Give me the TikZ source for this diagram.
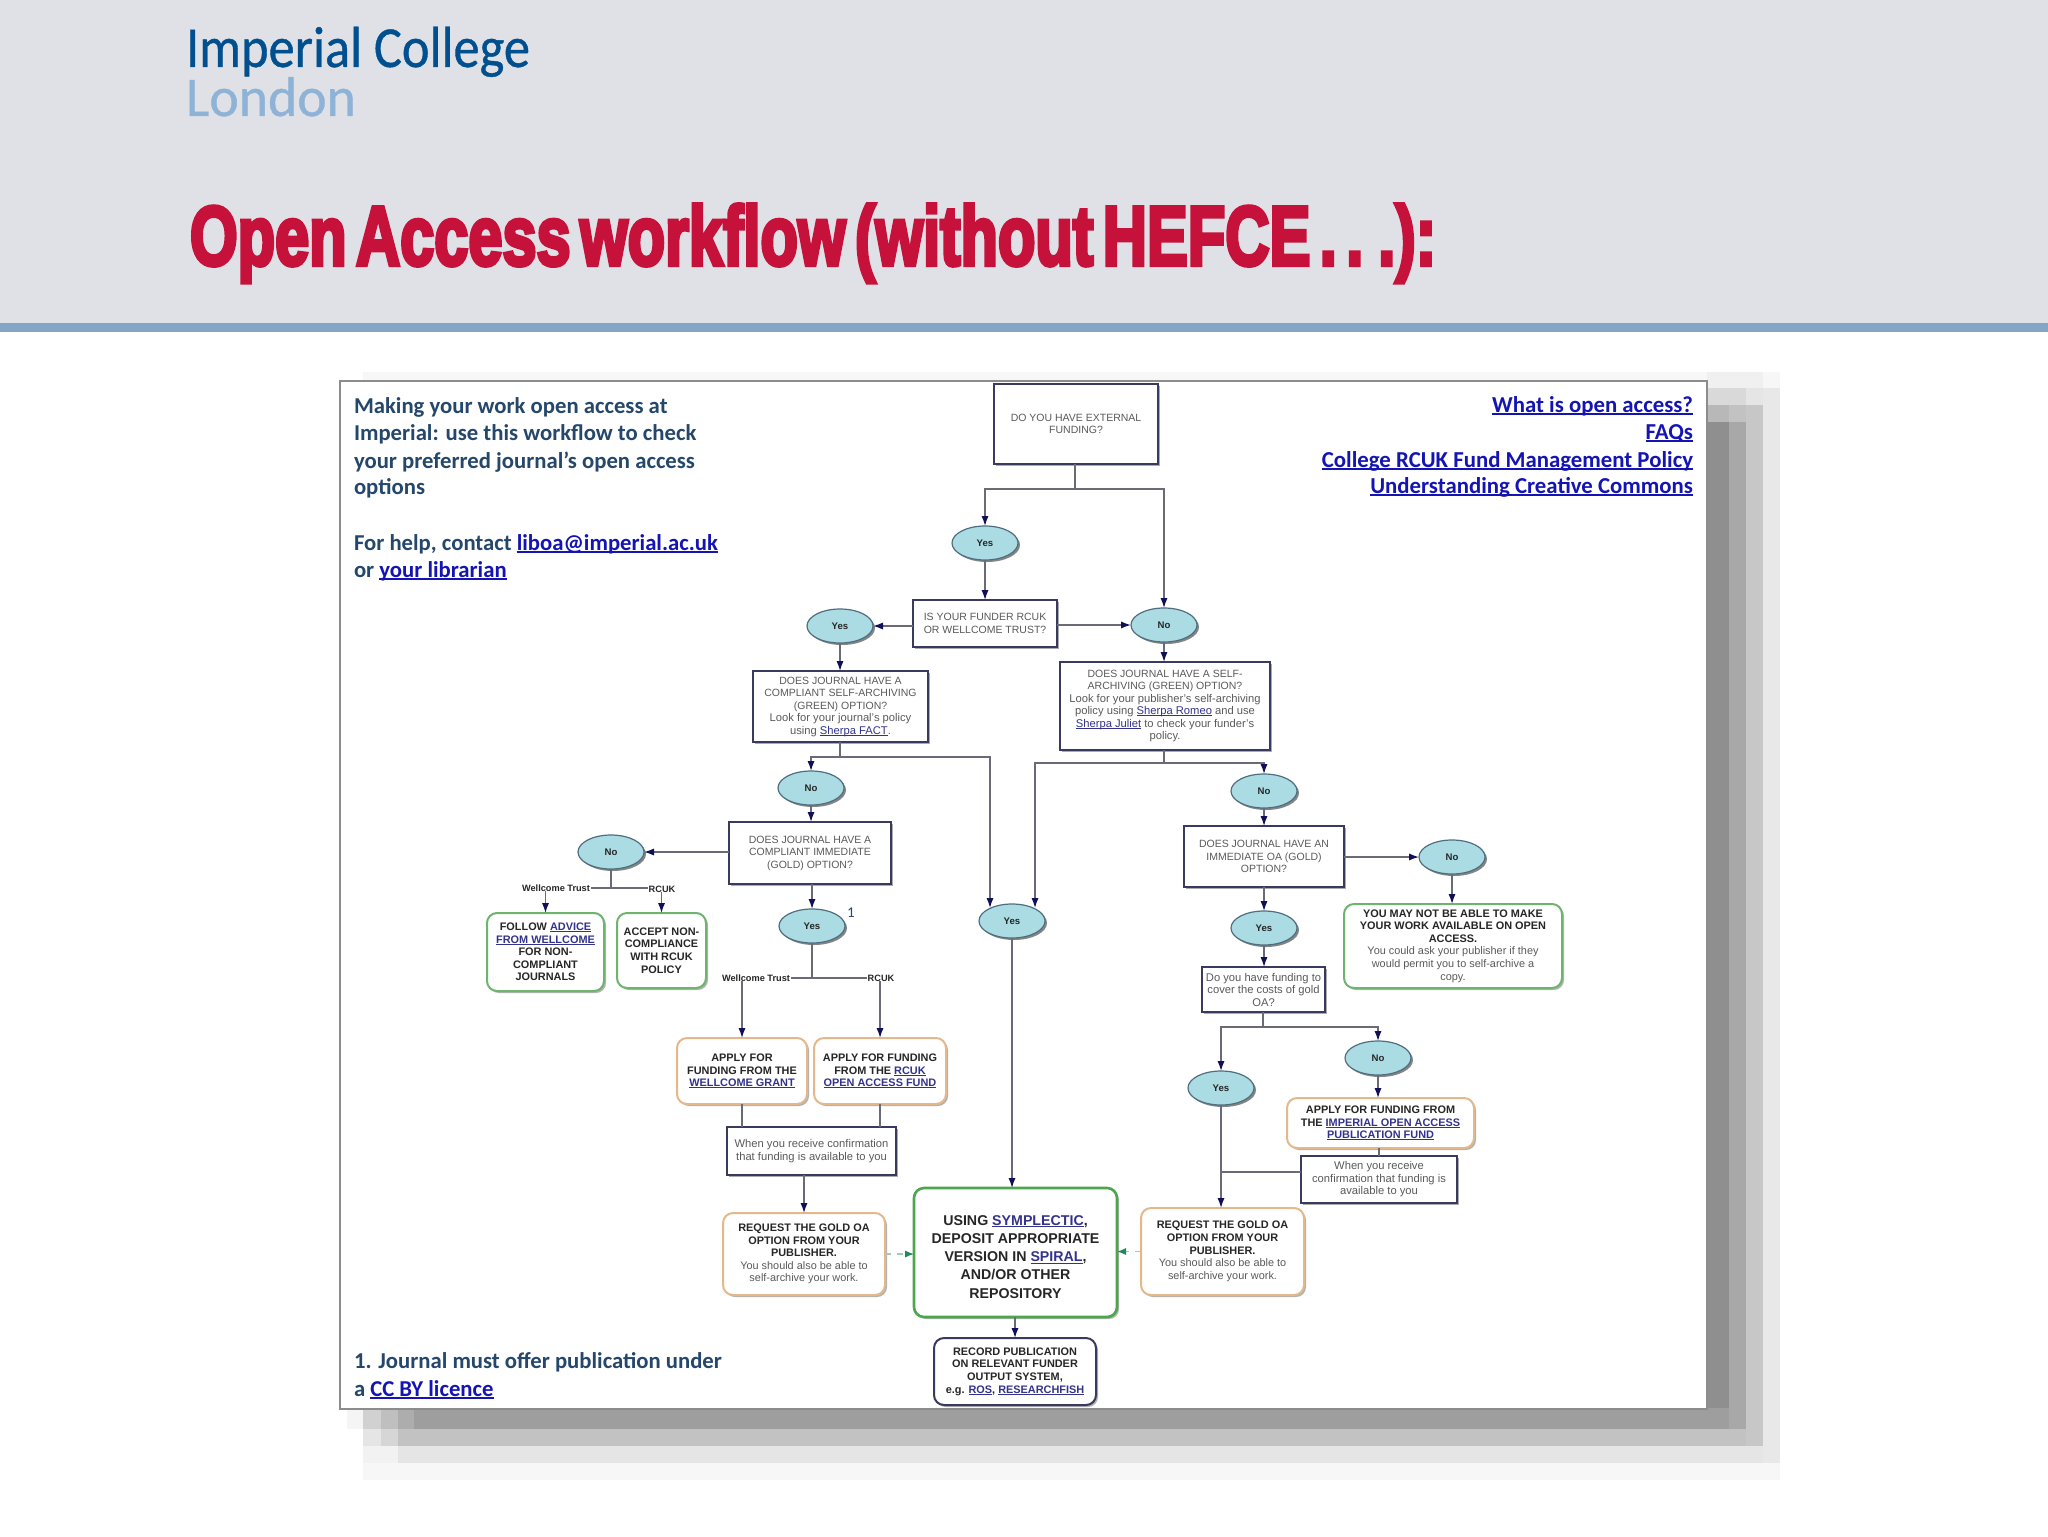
\documentclass[tikz,border=0pt]{standalone}
\usepackage{graphicx}
\usepackage{fontspec}
\setmainfont{Liberation Sans}
\newfontfamily\carl{Carlito}
\newfontfamily\logof[FakeBold=.7]{Carlito}
\newfontfamily\titlef[FakeBold=5,WordSpace=0.55]{Liberation Sans Bold}
\usetikzlibrary{shapes.geometric,arrows.meta,shadows}
\definecolor{hdr}{HTML}{E0E1E6}
\definecolor{hbar}{HTML}{84A5C5}
\definecolor{logoA}{HTML}{00508F}
\definecolor{logoB}{HTML}{8FB3D6}
\definecolor{titlered}{HTML}{C6123A}
\definecolor{headtxt}{HTML}{24476B}
\definecolor{weblink}{HTML}{1414B4}
\definecolor{boxlink}{HTML}{33338C}
\definecolor{qedge}{HTML}{3A3A5E}
\definecolor{greytxt}{HTML}{5A5A5A}
\definecolor{darktxt}{HTML}{262626}
\definecolor{oval}{HTML}{ABDCE4}
\definecolor{ovaledge}{HTML}{4F6F80}
\definecolor{greenedge}{HTML}{6FB36F}
\definecolor{mainedge}{HTML}{4CA64C}
\definecolor{orangeedge}{HTML}{E3B88A}
\definecolor{conn}{HTML}{6B6B78}
\definecolor{tipnavy}{HTML}{10105A}
\definecolor{tipgreen}{HTML}{1F8A5F}
\definecolor{dashgreen}{HTML}{A9C9B5}
\newcommand\fitw[2]{\resizebox{#1}{\height}{#2}}
\newcommand\ullk[2]{{\color{#1}\setbox0\hbox{#2}\rlap{\rule[-0.13em]{\wd0}{0.07em}}\box0}}
\newcommand\lk[1]{\ullk{boxlink}{#1}}
\newcommand\wl[1]{\ullk{weblink}{#1}}
\newcommand\bt[1]{{\bfseries\color{darktxt}#1}}
\newcommand\lc[1]{{\fontsize{5.6}{6.25}\selectfont #1}}
\newcommand\bx[7]{\pgfmathsetmacro\bCX{(#3+#5)/2}\pgfmathsetmacro\bCY{(#4+#6)/2}\pgfmathsetmacro\bW{(#5-#3)*0.5}\pgfmathsetmacro\bH{(#6-#4)*0.5}\node[#1,minimum width=\bW pt,minimum height=\bH pt] (#2) at (\bCX,\bCY) {#7};}
\tikzset{
 flat/.style={inner sep=0pt,outer sep=0pt},
 qbox/.style={flat,draw=qedge,line width=1pt,fill=white,align=center,text=greytxt,
   font=\fontsize{5.25}{6.25}\selectfont,
   drop shadow={shadow xshift=1pt,shadow yshift=-1pt,fill=black!55,opacity=.6}},
 rbox/.style={flat,fill=white,rounded corners=5pt,line width=1pt,align=center,text=greytxt,
   font=\fontsize{5.45}{6.3}\selectfont,
   drop shadow={shadow xshift=1pt,shadow yshift=-1pt,fill=black!55,opacity=.55}},
 gbox/.style={rbox,draw=greenedge},
 obox/.style={rbox,draw=orangeedge},
 mbox/.style={rbox,draw=mainedge,line width=1.3pt,font=\fontsize{7.1}{9.1}\selectfont},
 dbox/.style={rbox,draw=qedge},
 ovalnode/.style={flat,ellipse,draw=ovaledge,line width=.6pt,fill=oval,minimum width=33pt,minimum height=17pt,
   text=darktxt,font=\fontsize{4.8}{5}\selectfont\bfseries,
   drop shadow={shadow xshift=1pt,shadow yshift=-1pt,fill=black!60,opacity=.8}},
 side/.style={flat,font=\fontsize{4.6}{5}\selectfont\bfseries,text=darktxt,inner xsep=.5pt},
 line/.style={draw=conn,line width=.7pt},
 arr/.style={line,-{Latex[length=5pt,width=3.6pt,color=tipnavy]}},
 dasharr/.style={draw=dashgreen,line width=.7pt,dashed,-{Latex[length=4.5pt,width=3.6pt,color=tipgreen]}},
 headline/.style={flat,anchor=base west,text=headtxt,font=\carl\bfseries\fontsize{11.35}{12}\selectfont},
 linkline/.style={flat,anchor=base east,font=\carl\bfseries\fontsize{11.4}{12}\selectfont},
 band/.style={draw=none},
}
\begin{document}
\begin{tikzpicture}[x=.5pt,y=-.5pt]
\useasboundingbox (0,0) rectangle (2048,1536);
\fill[white] (0,0) rectangle (2048,1536);
% header
\fill[hdr] (0,0) rectangle (2048,323);
\fill[hbar] (0,323) rectangle (2048,332);
\node[flat,anchor=base west,text=logoA] (logo1) at (186,67) {\fitw{172pt}{\logof\fontsize{29}{30}\selectfont Imperial College}};
\node[flat,anchor=base west,text=logoB] (logo2) at (186,116) {\fitw{85pt}{\logof\fontsize{28}{30}\selectfont London}};
\node[flat,anchor=base west,text=titlered] (title) at (190,265) {\fitw{623pt}{\titlef\fontsize{42}{44}\selectfont Open Access workflow (without HEFCE . . .):}};
% stepped shadow behind the picture
\fill[band,fill=black!3] (363,372) rectangle (1780,1480);
\fill[band,fill=black!10] (381,388) rectangle (1763,1463);
\fill[band,fill=black!24] (398,405) rectangle (1746,1446);
\fill[band,fill=black!38] (414,422) rectangle (1729,1429);
% right side of the shadow
\fill[band,fill=black!9] (1763,388) rectangle (1780,1463);
\fill[band,fill=black!22] (1746,405) rectangle (1763,1446);
\fill[band,fill=black!34] (1729,422) rectangle (1746,1429);
\fill[band,fill=black!44] (1707,422) rectangle (1729,1408);
\fill[band,fill=black!6] (1707,372) rectangle (1763,388);
\fill[band,fill=black!15] (1707,388) rectangle (1746,405);
\fill[band,fill=black!28] (1707,405) rectangle (1729,422);
% lower left corner of the shadow
\fill[band,fill=black!4] (347,1409) rectangle (363,1429);
\fill[band,fill=black!18] (363,1409) rectangle (381,1429);
\fill[band,fill=black!25] (381,1409) rectangle (398,1429);
\fill[band,fill=black!32] (398,1409) rectangle (414,1429);
\fill[band,fill=black!10] (363,1429) rectangle (381,1446);
\fill[band,fill=black!16] (381,1429) rectangle (398,1446);
\fill[band,fill=black!5] (363,1446) rectangle (398,1463);
% frame
\fill[white,draw=black!45,line width=.8pt] (340,381) rectangle (1707,1409);
% side texts
\node[headline] (h1) at (354,413) {Making your work open access at};
\node[headline] (h2) at (354,440) {Imperial: use this workflow to check};
\node[headline] (h3) at (354,468) {your preferred journal’s open access};
\node[headline] (h4) at (354,494) {options};
\node[headline] (h5) at (354,550) {For help, contact \wl{liboa@imperial.ac.uk}};
\node[headline] (h6) at (354,577) {or \wl{your librarian}};
\node[linkline] (l1) at (1693,412) {\wl{What is open access?}};
\node[linkline] (l2) at (1693,439) {\wl{FAQs}};
\node[linkline] (l3) at (1693,467) {\wl{College RCUK Fund Management Policy}};
\node[linkline] (l4) at (1693,493) {\wl{Understanding Creative Commons}};
\node[headline] (f1) at (354,1368) {1. Journal must offer publication under};
\node[headline] (f2) at (354,1396) {a \wl{CC BY licence}};
% boxes
\bx{qbox}{q1}{994}{384}{1158}{464}{DO YOU HAVE EXTERNAL\\FUNDING?}
\bx{qbox}{q2}{913}{600}{1057}{647}{IS YOUR FUNDER RCUK\\OR WELLCOME TRUST?}
\bx{qbox}{q3}{753}{671}{928}{742}{DOES JOURNAL HAVE A\\COMPLIANT SELF-ARCHIVING\\(GREEN) OPTION?\\\lc{Look for your journal's policy}\\\lc{using \lk{Sherpa FACT}.}}
\bx{qbox}{q4}{1060}{662}{1270}{750}{DOES JOURNAL HAVE A SELF-\\ARCHIVING (GREEN) OPTION?\\\lc{Look for your publisher's self-archiving}\\\lc{policy using \lk{Sherpa Romeo} and use}\\\lc{\lk{Sherpa Juliet} to check your funder's}\\\lc{policy.}}
\bx{qbox}{q5}{729}{822}{891}{884}{DOES JOURNAL HAVE A\\COMPLIANT IMMEDIATE\\(GOLD) OPTION?}
\bx{qbox}{q6}{1184}{826}{1344}{887}{DOES JOURNAL HAVE AN\\IMMEDIATE OA (GOLD)\\OPTION?}
\bx{qbox}{q7}{1202}{967}{1325}{1012}{\lc{Do you have funding to}\\\lc{cover the costs of gold}\\\lc{OA?}}
\bx{qbox}{c1}{727}{1127}{896}{1175}{\lc{When you receive confirmation}\\\lc{that funding is available to you}}
\bx{qbox}{c2}{1301}{1156}{1457}{1203}{\lc{When you receive}\\\lc{confirmation that funding is}\\\lc{available to you}}
\bx{gbox}{g1}{487}{913}{604}{991}{\bt{FOLLOW} \lk{\bfseries ADVICE}\\\lk{\bfseries FROM WELLCOME}\\\bt{FOR NON-}\\\bt{COMPLIANT}\\\bt{JOURNALS}}
\bx{gbox}{g2}{617}{913}{706}{988}{\bt{ACCEPT NON-}\\\bt{COMPLIANCE}\\\bt{WITH RCUK}\\\bt{POLICY}}
\bx{gbox}{g3}{1344}{904}{1562}{988}{\bt{YOU MAY NOT BE ABLE TO MAKE}\\\bt{YOUR WORK AVAILABLE ON OPEN}\\\bt{ACCESS.}\\You could ask your publisher if they\\would permit you to self-archive a\\copy.}
\bx{obox}{o1}{677}{1038}{807}{1104}{\bt{APPLY FOR}\\\bt{FUNDING FROM THE}\\\lk{\bfseries WELLCOME GRANT}}
\bx{obox}{o2}{814}{1038}{946}{1104}{\bt{APPLY FOR FUNDING}\\\bt{FROM THE} \lk{\bfseries RCUK}\\\lk{\bfseries OPEN ACCESS FUND}}
\bx{obox}{o3}{723}{1213}{885}{1295}{\bt{REQUEST THE GOLD OA}\\\bt{OPTION FROM YOUR}\\\bt{PUBLISHER.}\\You should also be able to\\self-archive your work.}
\bx{obox}{o4}{1287}{1098}{1474}{1148}{\bt{APPLY FOR FUNDING FROM}\\\bt{THE} \lk{\bfseries IMPERIAL OPEN ACCESS}\\\lk{\bfseries PUBLICATION FUND}}
\bx{obox}{o5}{1141}{1208}{1304}{1295}{\bt{REQUEST THE GOLD OA}\\\bt{OPTION FROM YOUR}\\\bt{PUBLISHER.}\\You should also be able to\\self-archive your work.}
\bx{mbox}{m}{914}{1188}{1117}{1317}{\rule{0pt}{9.2pt}\bt{USING} \lk{\bfseries SYMPLECTIC}\bt{,}\\\bt{DEPOSIT APPROPRIATE}\\\bt{VERSION IN} \lk{\bfseries SPIRAL}\bt{,}\\\bt{AND/OR OTHER}\\\bt{REPOSITORY}}
\bx{dbox}{r}{934}{1338}{1096}{1405}{\bt{RECORD PUBLICATION}\\\bt{ON RELEVANT FUNDER}\\\bt{OUTPUT SYSTEM,}\\\bt{e.g.} \lk{\bfseries ROS}\bt{,} \lk{\bfseries RESEARCHFISH}}
% ovals
\node[ovalnode] (yes1) at (985,543) {Yes};
\node[ovalnode] (yes2) at (840,626) {Yes};
\node[ovalnode] (no1) at (1164,625) {No};
\node[ovalnode] (no2) at (811,788) {No};
\node[ovalnode] (no3) at (611,852) {No};
\node[ovalnode] (yes4) at (812,926) {Yes};
\node[ovalnode] (yes3) at (1012,921) {Yes};
\node[ovalnode] (no4) at (1264,791) {No};
\node[ovalnode] (no5) at (1452,857) {No};
\node[ovalnode] (yes5) at (1264,928) {Yes};
\node[ovalnode] (no6) at (1378,1058) {No};
\node[ovalnode] (yes6) at (1221,1088) {Yes};
\node[flat,text=headtxt,font=\carl\fontsize{7.5}{8}\selectfont] (fn) at (851,913) {1};
% branch labels
\node[side] (wt1) at (556,888) {Wellcome Trust};
\node[side] (rc1) at (662,889) {RCUK};
\node[side] (wt2) at (756,978) {Wellcome Trust};
\node[side] (rc2) at (881,978) {RCUK};
% connectors
\coordinate (j1) at (1075,489);
\draw[line] (q1.south -| j1) -- (j1);
\draw[arr] (j1) -| (yes1.north);
\draw[arr] (j1) -| (no1.north);
\draw[arr] (yes1.south) -- (yes1.south |- q2.north);
\draw[arr] (q2.west |- yes2.east) -- (yes2.east);
\draw[arr] (q2.east |- no1.west) -- (no1.west);
\draw[arr] (yes2.south) -- (yes2.south |- q3.north);
\draw[arr] (no1.south) -- (no1.south |- q4.north);
\coordinate (j2) at (840,757);
\coordinate (y3l) at (990,908);
\draw[line] (q3.south -| j2) -- (j2);
\draw[arr] (j2) -| (no2.north);
\draw[arr] (j2) -| (y3l);
\draw[arr] (no2.south) -- (no2.south |- q5.north);
\draw[arr] (q5.west |- no3.east) -- (no3.east);
\draw[arr] (q5.south -| yes4.north) -- (yes4.north);
\draw[line] (no3.south) -- (no3.south |- wt1.east);
\draw[line] (wt1.east) -- (rc1.west |- wt1.east);
\draw[arr] (g1.north |- wt1.south) -- (g1.north);
\draw[arr] (g2.north |- rc1.south) -- (g2.north);
\draw[line] (yes4.south) -- (yes4.south |- wt2.east);
\draw[line] (wt2.east) -- (rc2.west);
\draw[arr] (o1.north |- wt2.south) -- (o1.north);
\draw[arr] (o2.north |- rc2.south) -- (o2.north);
\draw[line] (o1.south) -- (o1.south |- c1.north);
\draw[line] (o2.south) -- (o2.south |- c1.north);
\draw[arr] (o3.north |- c1.south) -- (o3.north);
\draw[dasharr] (o3.east |- 0,1254) -- (m.west |- 0,1254);
\draw[arr] (yes3.south) -- (yes3.south |- m.north);
\draw[arr] (m.south -| r.north) -- (r.north);
\draw[dasharr] (o5.west) -- (o5.west -| m.east);
\coordinate (j3) at (1164,763);
\coordinate (y3r) at (1035,908);
\draw[line] (q4.south -| j3) -- (j3);
\draw[arr] (j3) -| (no4.north);
\draw[arr] (j3) -| (y3r);
\draw[arr] (no4.south) -- (no4.south |- q6.north);
\draw[arr] (q6.east |- no5.west) -- (no5.west);
\draw[arr] (no5.south) -- (no5.south |- g3.north);
\draw[arr] (q6.south -| yes5.north) -- (yes5.north);
\draw[arr] (yes5.south) -- (yes5.south |- q7.north);
\coordinate (j4) at (1263,1027);
\draw[line] (q7.south -| j4) -- (j4);
\draw[arr] (j4) -| (yes6.north);
\draw[arr] (j4) -| (no6.north);
\draw[arr] (no6.south) -- (no6.south |- o4.north);
\draw[line] (o4.south -| c2.north) -- (c2.north);
\draw[arr] (yes6.south) -- (yes6.south |- o5.north);
\coordinate (c2l) at (1301,1172);
\draw[line] (c2l) -- (yes6.south |- c2l);
\end{tikzpicture}
\end{document}
